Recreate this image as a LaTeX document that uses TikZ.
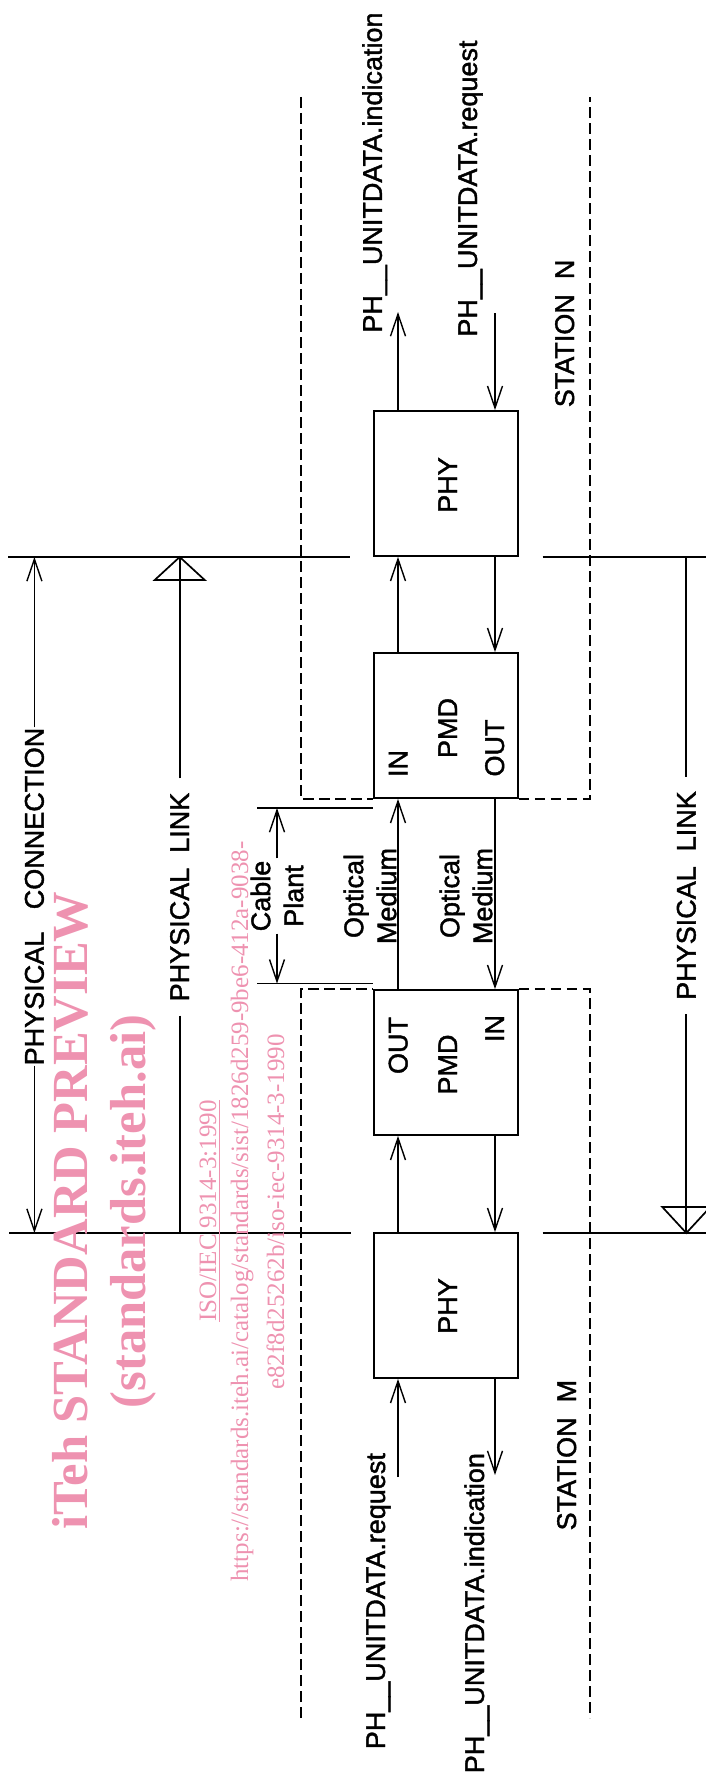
\documentclass[tikz,border=0pt]{standalone}
\usepackage{fontspec}
\setmainfont[FakeBold=1.5,AutoFakeBold=1.5]{Liberation Sans}
\newfontfamily\wmserif{Liberation Serif}
\usetikzlibrary{arrows.meta}
\definecolor{wmpink}{RGB}{238,146,176}

\begin{document}
\begin{tikzpicture}[x=0.5pt, y=-0.5pt,
  box/.style={draw, line width=0.85pt, minimum width=72pt, minimum height=72.5pt, inner sep=0pt},
  lbl/.style={rotate=90, inner sep=0pt, font=\fontsize{13.5}{16.5}\selectfont\bfseries},
  sig/.style={line width=0.7pt, -{Straight Barb[length=11pt, width=7.5pt]}},
  rule/.style={line width=0.85pt},
  dashline/.style={line width=0.85pt, dash pattern=on 5.3pt off 2.7pt},
  wm/.style={rotate=90, inner sep=0pt, text=wmpink}]
\useasboundingbox (0,0) rectangle (706,1787);
\node[box] (phyN) at (446,483.5) {};
\node[box] (pmdN) at (446,725.5) {};
\node[box] (pmdM) at (446,1062.5) {};
\node[box] (phyM) at (446,1305.5) {};
\coordinate (cl) at (398,0);
\coordinate (cr) at (495,0);
\coordinate (top) at (0,557);
\coordinate (bot) at (0,1233);
\node[lbl, anchor=base] (phyNtxt) at (457,485) {PHY};
\node[lbl, anchor=base] (pmdNin) at (407.5,763.5) {IN};
\node[lbl, anchor=base] (pmdNtxt) at (457,728) {PMD};
\node[lbl, anchor=base] (pmdNout) at (504,748) {OUT};
\node[lbl, anchor=base] (pmdMout) at (407.5,1045.5) {OUT};
\node[lbl, anchor=base] (pmdMtxt) at (457,1064.5) {PMD};
\node[lbl, anchor=base] (pmdMin) at (504,1028.5) {IN};
\node[lbl, anchor=base] (phyMtxt) at (457,1306) {PHY};
\node[lbl, anchor=base west] (indN) at (381.8,333) {PH\_\_UNITDATA.indication};
\node[lbl, anchor=base west] (reqN) at (477,337) {PH\_\_UNITDATA.request};
\node[lbl, anchor=base west] (staN) at (574,407.6) {STATION~~N};
\node[lbl, anchor=base east] (reqM) at (385,1452.7) {PH\_\_UNITDATA.request};
\node[lbl, anchor=base east] (indM) at (484,1452.7) {PH\_\_UNITDATA.indication};
\node[lbl, anchor=base east] (staM) at (576,1379.5) {STATION~~M};
\coordinate (indNtip) at (398,312);
\coordinate (reqNtail) at (495,313);
\coordinate (reqMtail) at (398,1477);
\coordinate (indMtip) at (495,1475);
\draw[sig] (cl |- phyN.north) -- (indNtip);
\draw[sig] (reqNtail) -- (cr |- phyN.north);
\draw[sig] (cl |- pmdN.north) -- (cl |- phyN.south);
\draw[sig] (cr |- phyN.south) -- (cr |- pmdN.north);
\draw[sig] (cl |- pmdM.north) -- (cl |- pmdN.south);
\draw[sig] (cr |- pmdN.south) -- (cr |- pmdM.north);
\draw[sig] (cl |- phyM.north) -- (cl |- pmdM.south);
\draw[sig] (cr |- pmdM.south) -- (cr |- phyM.north);
\draw[sig] (reqMtail) -- (cl |- phyM.south);
\draw[sig] (cr |- phyM.south) -- (indMtip);
\draw[rule] (8,557) -- (350,557);
\draw[rule] (542.5,557) -- (706,557);
\draw[rule] (9,1233) -- (351,1233);
\draw[rule] (542.5,1233) -- (706,1233);
\node[lbl, anchor=base] (pconn) at (43.7,896.5) {PHYSICAL~~~CONNECTION};
\draw[sig] (pconn.east) -- (pconn.east |- top);
\draw[sig] (pconn.west) -- (pconn.west |- bot);
\node[lbl, anchor=base, inner xsep=7pt] (plinkL) at (189,897) {PHYSICAL~~LINK};
\draw[rule] (plinkL.east) -- (plinkL.east |- top);
\draw[rule] (plinkL.east |- top) -- ++(-25,23) -- ++(50,0) -- cycle;
\draw[rule] (plinkL.west) -- (plinkL.west |- bot);
\node[lbl, anchor=base, inner xsep=7pt] (plinkR) at (695.6,895.5) {PHYSICAL~~LINK};
\draw[rule] (plinkR.east) -- (plinkR.east |- top);
\draw[rule] (plinkR.west) -- (plinkR.west |- bot);
\draw[rule] (plinkR.west |- bot) -- ++(-24,-26) -- ++(48,0) -- cycle;
\coordinate (cpTop) at (257,808);
\coordinate (cpBot) at (257,983.6);
\draw[rule] (cpTop) -- (cpTop -| pmdN.west);
\draw[rule] (cpBot) -- (cpBot -| pmdM.west);
\node[lbl, align=center, inner xsep=1pt] (cable) at (277,896) {Cable\\Plant};
\draw[sig] (cable.east) -- (cable.east |- cpTop);
\draw[sig] (cable.west) -- (cable.west |- cpBot);
\node[lbl, align=center] (optL) at (370,896) {Optical\\Medium};
\node[lbl, align=center] (optR) at (466,896) {Optical\\Medium};
\draw[dashline] (301,97) |- (pmdN.south west);
\draw[dashline] (pmdN.south east) -| (590,97);
\draw[dashline] (301,1718) |- (pmdM.north west);
\draw[dashline] (pmdM.north east) -| (590,1718);
\node[wm, anchor=base, font=\wmserif\bfseries\fontsize{25.3}{30}\selectfont] (wmA) at (87.5,1210.5) {iTeh STANDARD PREVIEW};
\node[wm, anchor=base, font=\wmserif\bfseries\fontsize{25.3}{30}\selectfont] (wmB) at (145,1211.5) {(standards.iteh.ai)};
\node[wm, anchor=base, font=\wmserif\fontsize{12.5}{15}\selectfont] (wmC) at (216,1211) {\underline{ISO/IEC 9314-3:1990}};
\node[wm, anchor=base, font=\wmserif\fontsize{12.5}{15}\selectfont] (wmD) at (248,1211.5) {https://standards.iteh.ai/catalog/standards/sist/1826d259-9be6-412a-9038-};
\node[wm, anchor=base, font=\wmserif\fontsize{12.5}{15}\selectfont] (wmE) at (284,1212) {e82f8d25262b/iso-iec-9314-3-1990};
\end{tikzpicture}
\end{document}
